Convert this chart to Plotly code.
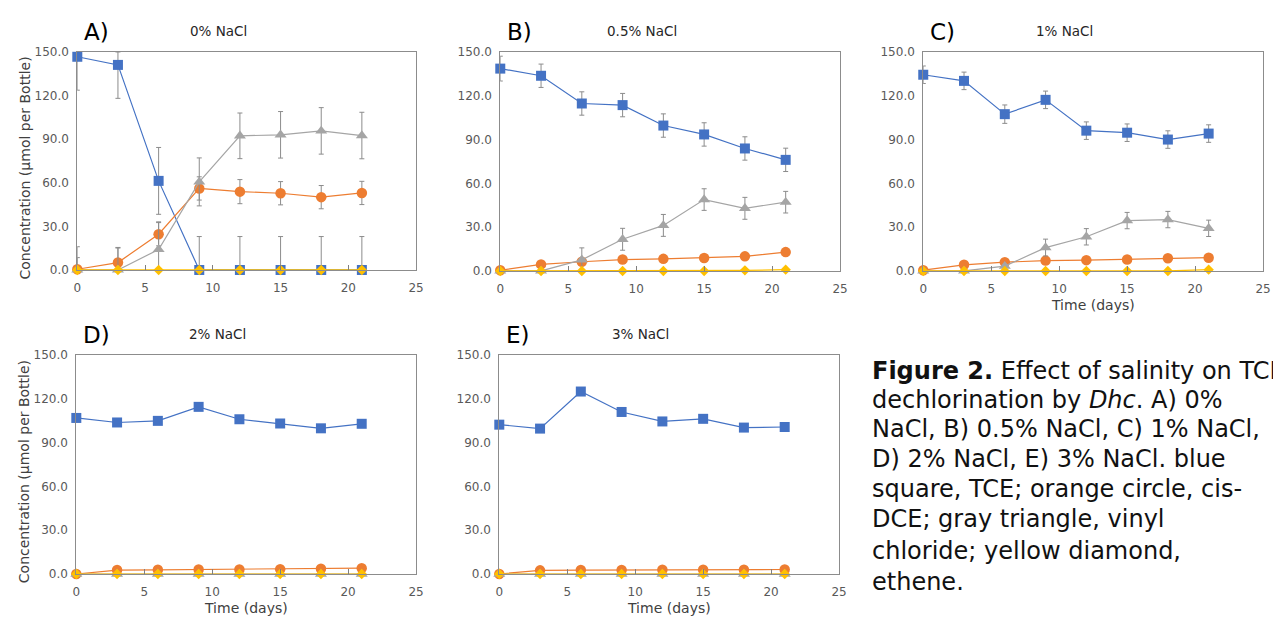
import plotly.graph_objects as go

W, H = 1273, 625

days = [0, 3, 6, 9, 12, 15, 18, 21]

# Panel A: 0% NaCl
tce_A = [146.7, 141.1, 61.3, 0, 0, 0, 0, 0]
tce_A_err = [23, 23, 23, 23, 23, 23, 23, 23]
dce_A = [0.5, 5.1, 24.6, 56.1, 53.9, 52.8, 50.1, 53.0]
dce_A_err = [8, 10, 8, 8, 8.3, 8, 8, 8]
vc_A = [0, 0, 14.1, 60.6, 92.3, 93.0, 95.7, 92.5]
vc_A_err = [16, 15.5, 19, 16.5, 15.7, 16, 16, 16]
eth_A = [0, 0, 0, 0, 0, 0, 0, 0]

# Panel B: 0.5% NaCl
tce_B = [138.6, 133.7, 114.7, 113.6, 99.6, 93.5, 83.9, 76.1]
tce_B_err = [8.5, 8, 8, 8, 8, 8, 8, 8]
dce_B = [0.5, 4.5, 6.3, 7.8, 8.3, 8.9, 10.0, 12.9]
dce_B_err = [1, 1, 1, 1, 1, 1, 1, 1]
vc_B = [0, 0, 7.6, 21.7, 31.2, 48.9, 42.9, 47.1]
vc_B_err = [1, 1, 8.2, 7.5, 7.5, 7.4, 7.5, 7.4]
eth_B = [0, 0, 0, 0, 0, 0, 0.4, 0.9]

# Panel C: 1% NaCl
tce_C = [134.4, 130.2, 107.4, 117.2, 96.1, 94.7, 90.0, 94.1]
tce_C_err = [6, 6, 6.3, 6, 6, 6, 6, 6]
dce_C = [0.5, 4.2, 6.0, 7.1, 7.4, 7.8, 8.7, 9.1]
dce_C_err = [1, 1, 1, 1, 1, 1, 1, 1]
vc_C = [0, 0, 3.3, 16.0, 23.4, 34.5, 35.2, 29.2]
vc_C_err = [0.5, 0.5, 1, 5.8, 5.6, 5.6, 5.6, 5.6]
eth_C = [0, 0, 0, 0, 0, 0, 0, 0.9]

# Panel D: 2% NaCl
tce_D = [106.9, 103.8, 104.9, 114.5, 106.0, 103.1, 99.8, 102.9]
tce_D_err = [1.5, 1.5, 1.5, 1.5, 1.5, 1.5, 1.5, 1.5]
dce_D = [0, 2.7, 2.9, 3.1, 3.1, 3.3, 3.6, 4.0]
dce_D_err = [0.3, 0.3, 0.3, 0.3, 0.3, 0.3, 0.3, 0.3]
vc_D = [0, 0, 0, 0, 0, 0, 0, 0]
vc_D_err = [0, 0, 0, 0, 0, 0, 0, 0]
eth_D = [0, 0, 0, 0, 0, 0, 0, 0]

# Panel E: 3% NaCl
tce_E = [102.3, 99.6, 125.0, 111.0, 104.5, 106.3, 100.3, 100.7]
tce_E_err = [1.5, 1.5, 1.5, 1.5, 1.5, 1.5, 1.5, 1.5]
dce_E = [0, 2.5, 2.7, 2.7, 2.9, 2.9, 2.9, 3.1]
dce_E_err = [0.3, 0.3, 0.3, 0.3, 0.3, 0.3, 0.3, 0.3]
vc_E = [0, 0, 0, 0, 0, 0, 0, 0]
vc_E_err = [0, 0, 0, 0, 0, 0, 0, 0]
eth_E = [0, 0, 0, 0, 0, 0, 0, 0]

panel_letters = ["A)", "B)", "C)", "D)", "E)"]
panel_titles = ["0% NaCl", "0.5% NaCl", "1% NaCl", "2% NaCl", "3% NaCl"]
y_ticks = [0, 30, 60, 90, 120, 150]
x_ticks = [0, 5, 10, 15, 20, 25]
y_title = "Concentration (µmol per Bottle)"
x_title = "Time (days)"
caption_lines = [
    "<b>Figure 2.</b> Effect of salinity on TCE",
    "dechlorination by <i>Dhc</i>. A) 0%",
    "NaCl, B) 0.5% NaCl, C) 1% NaCl,",
    "D) 2% NaCl, E) 3% NaCl. blue",
    "square, TCE; orange circle, cis-",
    "DCE; gray triangle, vinyl",
    "chloride; yellow diamond,",
    "ethene.",
]

panels = [
    (tce_A, tce_A_err, dce_A, dce_A_err, vc_A, vc_A_err, eth_A),
    (tce_B, tce_B_err, dce_B, dce_B_err, vc_B, vc_B_err, eth_B),
    (tce_C, tce_C_err, dce_C, dce_C_err, vc_C, vc_C_err, eth_C),
    (tce_D, tce_D_err, dce_D, dce_D_err, vc_D, vc_D_err, eth_D),
    (tce_E, tce_E_err, dce_E, dce_E_err, vc_E, vc_E_err, eth_E),
]

# pixel boxes (left, right, top, bottom) for each plot area
boxes = [(74, 416, 46, 269), (501, 844, 46, 270), (928, 1271, 46, 270),
         (73, 416, 356, 580), (500, 843, 356, 580)]

BLUE, ORANGE, GRAY, YELLOW = "#4472C4", "#ED7D31", "#A5A5A5", "#FFC000"
ERR = "#8C8C8C"
FONT = "DejaVu Sans"

fig = go.Figure()


def errbar(vals, errs):
    plus = [min(e, 150 - v) for v, e in zip(vals, errs)]
    minus = [min(e, v) for v, e in zip(vals, errs)]
    return dict(type="data", array=plus, arrayminus=minus, color=ERR,
                thickness=1, width=2.5, visible=True)


for i, (tce, tce_e, dce, dce_e, vc, vc_e, eth) in enumerate(panels):
    ax = "" if i == 0 else str(i + 1)
    xa, ya = "x" + ax, "y" + ax
    common = dict(x=days, xaxis=xa, yaxis=ya, mode="lines+markers",
                  cliponaxis=False, showlegend=False)
    fig.add_trace(go.Scatter(y=tce, error_y=errbar(tce, tce_e),
                             line=dict(color=BLUE, width=1.2),
                             marker=dict(symbol="square", size=10, color=BLUE), **common))
    fig.add_trace(go.Scatter(y=dce, error_y=errbar(dce, dce_e),
                             line=dict(color=ORANGE, width=1.2),
                             marker=dict(symbol="circle", size=10.5, color=ORANGE), **common))
    fig.add_trace(go.Scatter(y=vc, error_y=errbar(vc, vc_e),
                             line=dict(color=GRAY, width=1.2),
                             marker=dict(symbol="triangle-up", size=10.5, color=GRAY), **common))
    fig.add_trace(go.Scatter(y=eth, line=dict(color=YELLOW, width=1.2),
                             marker=dict(symbol="diamond", size=8, color=YELLOW), **common))

layout = dict(
    width=W, height=H, margin=dict(l=0, r=0, t=0, b=0),
    paper_bgcolor="white", plot_bgcolor="white",
    font=dict(family=FONT, color="#404040"),
    showlegend=False,
)
annotations = []
for i, (l, r, t, b) in enumerate(boxes):
    ax = "" if i == 0 else str(i + 1)
    layout["xaxis" + ax] = dict(
        domain=[l / W, r / W], anchor="y" + ax, range=[0, 25],
        tickvals=x_ticks, ticktext=[str(v) for v in x_ticks],
        showgrid=False, zeroline=False, showline=True, mirror=True,
        linecolor="#8C8C8C", linewidth=1, ticks="inside", ticklen=5,
        tickcolor="#7F7F7F", ticklabelstandoff=7,
        tickfont=dict(size=12, color="#595959"),
    )
    layout["yaxis" + ax] = dict(
        domain=[1 - b / H, 1 - t / H], anchor="x" + ax, range=[0, 150],
        tickvals=y_ticks, ticktext=["%.1f" % v for v in y_ticks],
        showgrid=False, zeroline=False, showline=True, mirror=True,
        linecolor="#8C8C8C", linewidth=1, ticks="", ticklabelstandoff=5,
        tickfont=dict(size=12, color="#595959"),
    )
    cx = (l + r) / 2
    # panel letter
    annotations.append(dict(text=panel_letters[i], x=(l + 5) / W, y=1 - (t - 20) / H,
                            xref="paper", yref="paper", xanchor="left", yanchor="middle",
                            showarrow=False, font=dict(size=23, color="black", family=FONT)))
    # panel title
    annotations.append(dict(text=panel_titles[i], x=(l + 143) / W, y=1 - (t - 21) / H,
                            xref="paper", yref="paper", xanchor="center", yanchor="middle",
                            showarrow=False, font=dict(size=13.5, color="#262626", family=FONT)))
    if i in (0, 3):
        annotations.append(dict(text=y_title, x=21 / W, y=1 - ((t + b) / 2 + 7) / H,
                                xref="paper", yref="paper", xanchor="center", yanchor="middle",
                                textangle=-90, showarrow=False,
                                font=dict(size=14, color="#404040", family=FONT)))
    if i in (2, 3, 4):
        annotations.append(dict(text=x_title, x=cx / W, y=1 - (b + 35) / H,
                                xref="paper", yref="paper", xanchor="center", yanchor="middle",
                                showarrow=False, font=dict(size=14, color="#404040", family=FONT)))

line_y = [372, 402, 432, 462, 493, 524, 556, 588]
for txt, yy in zip(caption_lines, line_y):
    annotations.append(dict(text=txt, x=875 / W, y=1 - yy / H, xref="paper", yref="paper",
                            xanchor="left", yanchor="middle", showarrow=False, borderpad=0,
                            font=dict(size=24, color="#111111", family=FONT)))

layout["annotations"] = annotations
fig.update_layout(**layout)
fig.write_html("out.html", config={"displayModeBar": False},
               post_script="document.body.style.margin='0px';")
